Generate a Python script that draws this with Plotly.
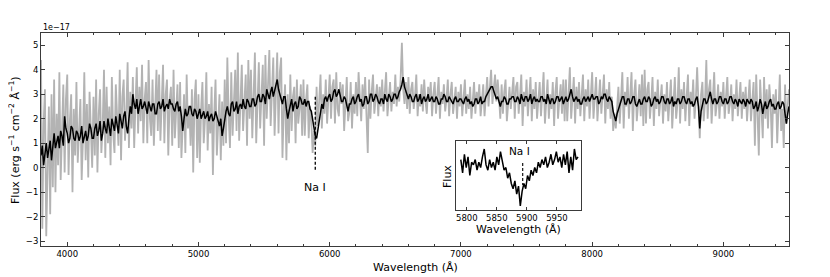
import numpy as np
import plotly.graph_objects as go

# ---------------- data (flux in units of 1e-17) ----------------
smooth_start, smooth_step = 3800, 10
flux_smooth = [
    0.5, 0.9, 0.1, 0.6, 1.0, 0.4, 0.7, 1.1, 0.3, 0.9,
    1.4, 0.8, 1.0, 1.3, 0.8, 1.5, 1.3, 0.9, 2.1, 1.6,
    1.4, 1.0, 1.2, 1.7, 1.6, 1.2, 1.1, 1.5, 1.4, 1.1,
    1.3, 1.7, 1.0, 1.3, 1.5, 1.1, 1.3, 1.8, 1.6, 1.2,
    1.2, 1.6, 1.8, 1.3, 1.5, 1.9, 1.1, 1.4, 1.9, 1.6,
    1.4, 2.0, 1.7, 1.3, 2.0, 1.7, 1.5, 2.1, 1.8, 1.4,
    2.2, 1.8, 1.6, 2.1, 2.3, 1.7, 1.4, 2.0, 2.5, 2.2,
    3.0, 2.6, 2.4, 2.8, 2.2, 2.5, 2.8, 2.4, 2.5, 2.7,
    2.4, 2.2, 2.7, 2.5, 2.3, 2.6, 2.6, 2.2, 2.2, 2.6,
    2.7, 2.4, 2.5, 2.8, 2.3, 2.5, 2.6, 2.4, 2.8, 2.6,
    2.6, 2.4, 2.3, 2.6, 2.7, 2.3, 2.5, 2.1, 1.5, 2.0,
    2.4, 2.1, 2.2, 2.5, 2.5, 2.2, 2.1, 2.4, 2.3, 2.0,
    2.2, 2.4, 2.0, 2.2, 2.3, 2.0, 2.1, 2.3, 1.9, 2.1,
    2.2, 1.9, 2.0, 2.3, 2.1, 1.8, 1.7, 2.0, 1.3, 1.6,
    2.0, 2.3, 2.5, 2.2, 2.1, 2.6, 2.7, 2.3, 2.4, 2.7,
    2.2, 2.5, 2.6, 2.4, 2.8, 2.5, 2.4, 2.8, 2.7, 2.5,
    2.5, 2.8, 2.8, 2.5, 2.6, 2.9, 3.0, 2.7, 2.7, 3.0,
    2.9, 2.6, 3.2, 3.0, 2.8, 3.1, 3.3, 2.9, 3.1, 3.4,
    3.6, 3.2, 3.0, 2.7, 2.6, 2.9, 2.9, 2.4, 2.0, 2.3,
    2.5, 2.8, 2.3, 2.6, 2.7, 2.4, 2.5, 2.9, 2.8, 2.6,
    2.6, 2.8, 2.5, 2.7, 2.7, 2.4, 2.3, 2.0, 1.6, 1.3,
    1.2, 1.6, 1.9, 2.3, 2.6, 2.4, 2.8, 2.9, 2.7, 2.9,
    3.0, 2.7, 2.8, 3.1, 3.2, 2.9, 3.0, 3.2, 2.9, 2.7,
    2.7, 2.9, 2.8, 2.5, 2.3, 2.6, 2.6, 2.8, 2.9, 2.6,
    2.7, 2.9, 3.0, 2.7, 2.8, 2.5, 2.6, 2.9, 2.9, 2.6,
    2.7, 3.0, 3.0, 2.7, 2.8, 3.0, 2.9, 2.7, 2.6, 2.8,
    2.8, 2.6, 3.0, 2.8, 2.7, 3.0, 2.9, 2.7, 2.8, 3.0,
    3.0, 2.8, 2.9, 3.1, 3.2, 3.4, 3.7, 3.3, 3.1, 2.9,
    2.8, 3.0, 2.9, 2.7, 2.7, 2.9, 3.0, 2.7, 2.8, 3.0,
    2.6, 2.8, 2.9, 2.7, 2.8, 3.0, 2.7, 2.8, 2.9, 2.7,
    2.7, 2.9, 2.8, 2.6, 2.6, 2.8, 2.8, 3.0, 2.9, 2.7,
    2.7, 2.9, 2.8, 2.7, 2.6, 2.8, 2.9, 2.7, 2.7, 2.8,
    2.8, 2.7, 2.6, 2.8, 2.9, 2.7, 2.8, 2.6, 2.7, 2.5,
    2.6, 2.8, 2.8, 2.6, 2.7, 2.9, 2.6, 2.7, 2.7, 2.9,
    3.0, 3.1, 3.2, 3.3, 3.3, 3.1, 3.0, 2.8, 2.9, 2.7,
    2.5, 2.7, 2.7, 2.9, 2.8, 2.6, 2.6, 2.8, 2.8, 2.9,
    2.9, 2.7, 2.7, 2.9, 2.8, 2.6, 3.0, 2.8, 2.7, 2.9,
    2.9, 2.7, 2.8, 3.0, 2.6, 2.8, 2.9, 2.7, 2.8, 2.7,
    2.7, 2.9, 2.9, 2.7, 2.8, 2.6, 3.0, 2.8, 2.6, 2.8,
    2.8, 2.6, 2.7, 2.9, 2.9, 2.7, 2.8, 2.9, 2.6, 2.8,
    2.9, 2.7, 2.8, 3.0, 3.2, 2.9, 2.7, 2.8, 2.9, 2.7,
    2.8, 2.6, 2.6, 2.8, 2.9, 2.7, 2.8, 2.9, 2.7, 2.9,
    3.0, 2.8, 2.8, 2.9, 2.9, 2.6, 2.7, 2.9, 2.8, 3.0,
    3.0, 2.8, 2.7, 2.9, 2.8, 2.7, 2.3, 2.1, 1.9, 2.2,
    2.4, 2.6, 2.7, 2.9, 2.9, 2.6, 2.6, 2.8, 2.8, 2.6,
    2.7, 2.9, 2.9, 2.6, 2.5, 2.7, 2.8, 2.6, 2.6, 2.8,
    2.9, 2.7, 2.7, 2.9, 2.8, 2.5, 2.6, 2.8, 2.9, 2.7,
    2.8, 2.6, 2.7, 2.9, 2.9, 2.7, 2.6, 2.8, 2.8, 2.6,
    2.7, 2.9, 2.5, 2.7, 2.6, 2.8, 2.8, 2.6, 2.7, 2.9,
    2.9, 2.7, 2.6, 2.8, 2.8, 2.6, 2.7, 2.5, 2.6, 2.8,
    2.9, 2.5, 1.6, 2.3, 2.6, 2.8, 2.8, 2.6, 2.7, 2.9,
    3.1, 2.8, 2.6, 2.8, 2.8, 2.6, 2.7, 2.9, 2.9, 2.7,
    2.6, 2.8, 2.8, 2.6, 2.7, 2.9, 2.9, 2.7, 2.6, 2.8,
    2.7, 2.5, 2.8, 2.7, 2.6, 2.8, 2.7, 2.5, 2.8, 2.7,
    2.6, 2.8, 2.7, 2.4, 2.5, 2.7, 2.3, 2.5, 2.8, 2.6,
    2.2, 2.5, 2.7, 2.4, 2.5, 2.7, 2.8, 2.5, 2.6, 2.4,
    2.4, 2.6, 2.7, 2.4, 2.5, 2.7, 2.6, 2.2, 1.8, 2.2,
    2.5,
]
raw_start, raw_step = 3800, 10
flux_raw = [
    4.4, -2.5, 1.8, 3.2, -2.8, 0.5, 2.5, -1.9, 3.0, -0.8,
    3.6, -1.0, 2.2, 0.1, 3.9, -0.5, 1.5, 3.4, -0.2, 2.8,
    3.8, -0.3, 1.9, 3.0, -1.0, 2.4, 0.5, 3.5, 0.2, 2.0,
    2.8, -0.5, 1.2, 3.9, 0.3, 2.6, -0.4, 3.1, 1.0, 0.0,
    2.9, 0.5, 3.6, -0.2, 2.2, 3.2, 0.6, 1.7, 4.0, 0.4,
    3.3, 1.0, 2.5, 0.1, 3.7, 1.4, 0.6, 3.4, 2.1, 0.9,
    4.0, 0.3, 2.9, 3.6, 1.1, 2.2, 4.3, 0.8, 3.1, 1.6,
    3.7, 0.8, 2.6, 4.1, 1.4, 3.3, 1.9, 4.2, 1.0, 2.8,
    3.5, 1.0, 4.4, 2.0, 1.3, 3.6, 0.9, 2.9, 4.0, 1.5,
    3.8, 1.1, 2.4, 4.2, 1.0, 3.0, 3.6, 0.5, 2.7, 3.3,
    0.9, 4.0, 1.2, 2.6, 3.4, 0.8, 3.5, 0.4, 1.9, 3.0,
    0.6, 3.8, 1.6, 2.5, 0.9, 3.2, -0.2, 2.8, 3.6, 0.4,
    3.0, 0.2, 2.4, 3.5, 1.0, 2.0, 3.9, 0.7, 2.6, 1.4,
    3.3, -0.3, 2.2, 3.6, 0.5, 1.8, 3.0, 0.3, 2.7, 0.9,
    3.6, 1.0, 4.5, 2.1, 0.8, 3.9, 1.3, 2.7, 4.0, 1.5,
    4.7, 1.1, 3.2, 4.2, 1.5, 2.6, 3.8, 0.9, 4.4, 2.0,
    4.0, 1.2, 3.5, 4.7, 1.0, 2.9, 4.3, 1.6, 3.3, 4.2,
    0.9, 4.6, 2.0, 3.8, 4.8, 1.7, 3.1, 4.5, 1.3, 3.6,
    4.7, 1.4, 3.9, 4.5, 0.4, 2.4, 3.4, 0.3, 3.0, 1.0,
    3.8, 1.5, 2.9, 3.3, 1.0, 3.6, 1.8, 2.4, 3.4, 1.3,
    3.6, 1.3, 2.8, 3.4, 1.2, 2.5, 1.9, 0.6, 1.5, 0.9,
    3.3, 1.7, 2.9, 3.8, 1.6, 3.0, 2.2, 3.6, 1.8, 3.1,
    3.8, 2.0, 3.3, 3.6, 1.8, 3.9, 2.4, 2.1, 3.5, 2.6,
    3.4, 1.5, 2.8, 3.7, 1.9, 2.3, 3.5, 1.6, 3.0, 2.2,
    3.5, 2.1, 3.9, 2.6, 1.9, 3.4, 2.4, 3.7, 2.2, 0.6,
    3.6, 2.0, 3.1, 3.8, 2.2, 2.9, 3.4, 2.1, 3.3, 2.5,
    3.6, 2.3, 3.2, 3.9, 2.1, 2.8, 3.5, 2.3, 3.1, 2.6,
    3.8, 2.5, 3.3, 2.7, 3.6, 5.1, 3.2, 2.6, 3.5, 2.4,
    3.7, 2.2, 3.2, 3.5, 2.4, 2.9, 3.8, 2.1, 3.0, 2.5,
    3.4, 2.3, 3.6, 2.7, 2.2, 3.3, 2.8, 3.5, 2.1, 3.0,
    3.5, 2.2, 2.9, 3.7, 2.0, 3.1, 2.6, 3.4, 2.3, 2.8,
    3.6, 2.1, 3.0, 3.5, 2.2, 2.7, 3.3, 2.0, 3.1, 2.5,
    3.4, 2.1, 2.8, 3.6, 2.2, 3.0, 2.4, 3.3, 2.0, 2.9,
    3.5, 2.2, 3.1, 2.6, 3.4, 2.1, 2.9, 3.4, 2.1, 2.8,
    3.7, 2.5, 3.4, 4.0, 2.6, 3.2, 3.8, 2.7, 3.6, 2.9,
    2.0, 3.4, 2.2, 3.1, 3.6, 1.9, 2.8, 3.3, 2.4, 3.0,
    3.7, 2.0, 3.3, 3.5, 2.2, 2.9, 3.8, 1.7, 3.1, 2.5,
    3.6, 2.1, 3.0, 3.7, 1.9, 3.2, 2.4, 3.5, 2.0, 2.9,
    3.5, 2.1, 3.2, 3.9, 1.8, 2.7, 3.6, 2.0, 3.0, 2.4,
    3.5, 1.7, 3.1, 3.7, 2.0, 2.8, 3.4, 2.2, 3.6, 1.9,
    3.6, 1.9, 3.0, 4.1, 2.0, 2.7, 3.7, 1.8, 3.3, 2.4,
    3.5, 2.1, 2.9, 3.8, 1.9, 3.2, 2.5, 3.6, 2.0, 3.0,
    3.9, 2.0, 3.1, 3.7, 1.9, 2.8, 3.6, 2.2, 3.0, 3.8,
    1.8, 3.2, 2.4, 3.5, 2.0, 2.9, 1.5, 2.2, 1.6, 2.6,
    3.3, 1.8, 2.9, 3.9, 1.6, 3.1, 2.5, 3.7, 2.0, 2.8,
    3.9, 1.5, 3.0, 3.6, 1.9, 2.6, 3.4, 2.1, 3.8, 1.7,
    4.0, 1.8, 3.2, 3.5, 2.0, 2.7, 3.7, 1.7, 3.1, 2.4,
    3.6, 2.1, 2.8, 3.4, 1.8, 3.0, 2.3, 3.5, 1.9, 2.9,
    3.6, 1.6, 3.0, 3.7, 2.0, 2.6, 4.1, 1.8, 3.2, 2.4,
    3.5, 1.9, 2.9, 3.8, 1.7, 3.1, 2.5, 3.6, 2.0, 2.8,
    4.1, 2.1, 1.2, 3.0, 3.5, 1.9, 2.7, 4.4, 2.0, 3.2,
    3.6, 1.8, 3.0, 3.9, 2.1, 2.6, 3.4, 2.0, 3.1, 2.5,
    3.5, 2.0, 2.9, 3.7, 2.2, 2.6, 3.4, 1.9, 3.0, 2.4,
    3.6, 2.1, 2.8, 3.5, 2.0, 3.1, 2.4, 3.3, 1.9, 2.7,
    3.6, 1.9, 2.9, 3.5, 0.9, 3.8, 2.2, 0.5, 3.6, 2.4,
    1.2, 3.7, 2.0, 3.2, 1.6, 3.4, 2.6, 0.8, 3.0, 2.2,
    3.2, 1.0, 2.8, 3.8, 1.5, 2.4, 0.8, 3.4, 1.8, 2.6,
    3.2,
]
inset_start, inset_step = 5790, 3
inset_flux = [
    2.9, 2.4, 3.1, 2.6, 3.0, 2.3, 2.8, 2.7, 2.9, 2.5,
    2.8, 2.6, 3.0, 3.3, 2.7, 2.5, 2.9, 2.6, 2.8, 2.5,
    3.0, 2.7, 3.2, 2.9, 2.5, 2.6, 2.2, 2.4, 2.0, 1.8,
    2.1, 1.6, 1.9, 1.15, 1.7, 2.0, 1.8, 2.3, 2.1, 2.5,
    2.3, 2.6, 2.4, 2.8, 2.6, 2.9, 2.7, 3.0, 2.6, 2.8,
    3.1, 2.7, 2.9, 3.2, 2.8, 3.0, 2.6, 3.1, 2.7, 3.2,
    2.4, 3.0, 2.5, 3.3, 2.9, 3.0,
]
na_line = 5890
x_ticks = [4000, 5000, 6000, 7000, 8000, 9000]
y_ticks = [-3, -2, -1, 0, 1, 2, 3, 4, 5]
inset_ticks = [5800, 5850, 5900, 5950]

wave_smooth = smooth_start + smooth_step * np.arange(len(flux_smooth))
wave_raw = raw_start + raw_step * np.arange(len(flux_raw))
inset_wave = inset_start + inset_step * np.arange(len(inset_flux))

# the page body has an 8px margin; the figure is sized so it fills the window
OFF = 8
W, H = 830 - OFF, 277 - OFF
FONT = "DejaVu Sans"
AX = "#3a3a3a"


def px_x(p):
    return (p - OFF) / W


def px_y(p):
    return 1 - (p - OFF) / H


fig = go.Figure()
fig.add_trace(go.Scatter(x=wave_raw, y=flux_raw, mode="lines",
                         line=dict(color="#b3b3b3", width=1.8),
                         xaxis="x", yaxis="y", showlegend=False))
fig.add_trace(go.Scatter(x=wave_smooth, y=flux_smooth, mode="lines",
                         line=dict(color="black", width=1.5),
                         xaxis="x", yaxis="y", showlegend=False))
fig.add_trace(go.Scatter(x=inset_wave, y=inset_flux, mode="lines",
                         line=dict(color="black", width=1.5),
                         xaxis="x2", yaxis="y2", showlegend=False))

common = dict(showline=True, linecolor=AX, linewidth=1, mirror="ticks",
              ticks="inside", tickcolor=AX, showgrid=False, zeroline=False,
              tickfont=dict(family=FONT, size=8.5, color="black"))

fig.update_layout(
    width=W, height=H, margin=dict(l=0, r=0, t=0, b=0),
    paper_bgcolor="white", plot_bgcolor="white",
    font=dict(family=FONT, color="black"),
    xaxis=dict(domain=[px_x(41), px_x(789)], range=[3800, 9500],
               tickvals=x_ticks, ticklen=4,
               minor=dict(ticks="inside", dtick=200, tick0=4000, ticklen=2, tickcolor=AX),
               anchor="y", **common),
    yaxis=dict(domain=[px_y(246), px_y(33)], range=[-3.2, 5.5],
               tickvals=y_ticks, ticklen=4, anchor="x", **common),
    xaxis2=dict(domain=[px_x(456), px_x(581)], range=[5782, 5990],
                tickvals=inset_ticks, ticklen=3, anchor="y2", **common),
    yaxis2=dict(domain=[px_y(210), px_y(141)], range=[1.0, 3.6],
                showticklabels=False, ticks="", anchor="x2",
                showline=True, linecolor=AX, linewidth=1, mirror=True,
                showgrid=False, zeroline=False),
)

shapes = [
    dict(type="line", xref="x", yref="y", x0=na_line, x1=na_line, y0=2.9, y1=-0.17,
         line=dict(color="black", width=1.3, dash="3px,2px")),
    dict(type="line", xref="x2", yref="y2", x0=5893, x1=5893, y0=2.77, y1=1.94,
         line=dict(color="black", width=1.1, dash="3px,2px")),
]
fig.update_layout(shapes=shapes)


def label(text, x, y, size, angle=0, xanchor="center"):
    return dict(text=text, xref="paper", yref="paper", x=px_x(x), y=px_y(y),
                xanchor=xanchor, yanchor="middle", textangle=angle, showarrow=False,
                font=dict(size=size, family=FONT, color="black"))


ann = [
    dict(text="Na I", xref="x", yref="y", x=na_line, y=-0.83, showarrow=False,
         xanchor="center", yanchor="middle", font=dict(size=11, family=FONT)),
    dict(text="Na I", xref="x2", yref="y2", x=5888, y=3.22, showarrow=False,
         xanchor="center", yanchor="middle", font=dict(size=10.5, family=FONT)),
    label("Wavelength (Å)", 415, 267, 11),
    label("Flux (erg s<sup>−1</sup> cm<sup>−2</sup> Å<sup>−1</sup>)", 14, 140, 11, angle=-90),
    label("1e−17", 41, 27, 8, xanchor="left"),
    label("Wavelength (Å)", 519, 229, 11),
    label("Flux", 447, 176, 11, angle=-90),
]
fig.update_layout(annotations=ann)

fig.write_html("out.html")
